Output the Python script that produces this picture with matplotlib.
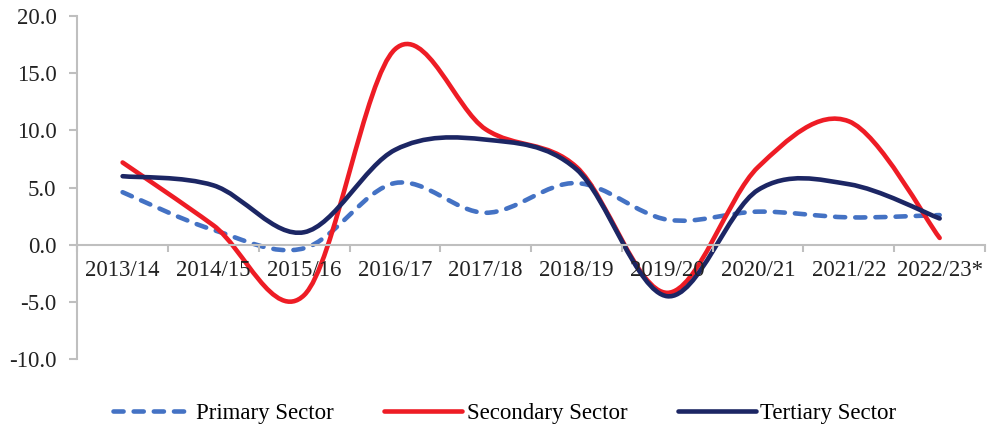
import matplotlib.pyplot as plt
import numpy as np
from matplotlib.path import Path
from matplotlib.patches import PathPatch
from matplotlib.lines import Line2D

years = ['2013/14', '2014/15', '2015/16', '2016/17', '2017/18',
         '2018/19', '2019/20', '2020/21', '2021/22', '2022/23*']
primary = [4.6, 1.3, -0.3, 5.4, 2.8, 5.4, 2.2, 2.9, 2.4, 2.6]
secondary = [7.2, 1.7, -4.4, 17.1, 10.1, 6.8, -4.2, 6.8, 10.8, 0.6]
tertiary = [6.0, 5.2, 1.1, 8.3, 9.2, 6.6, -4.5, 4.8, 5.3, 2.3]

plt.rcParams['font.family'] = ['Liberation Serif', 'DejaVu Serif']
FS = 16.5


def smooth_path(xs, ys):
    # Excel-style smoothed line: cubic Bezier through each point
    pts = np.column_stack([xs, ys]).astype(float)
    ext = np.vstack([pts[0], pts, pts[-1]])
    verts = [pts[0]]
    codes = [Path.MOVETO]
    for i in range(len(pts) - 1):
        p0, p1, p2, p3 = ext[i], ext[i + 1], ext[i + 2], ext[i + 3]
        verts += [p1 + (p2 - p0) / 6, p2 - (p3 - p1) / 6, p2]
        codes += [Path.CURVE4] * 3
    return Path(verts, codes)


fig = plt.figure(figsize=(9.9, 4.25), dpi=100)
ax = fig.add_axes([0.078, 0.155, 0.917, 0.807])

x = np.arange(len(years))
styles = [
    (primary, 'Primary Sector', '#4472C4', (0, (2.2, 2.2))),
    (secondary, 'Secondary Sector', '#EE1C25', '-'),
    (tertiary, 'Tertiary Sector', '#1C2664', '-'),
]
handles = []
for vals, name, col, ls in styles:
    patch = PathPatch(smooth_path(x, vals), facecolor='none', edgecolor=col,
                      lw=3.3, linestyle=ls, capstyle='round', joinstyle='round')
    ax.add_patch(patch)
    handles.append(Line2D([], [], color=col, lw=3.3, linestyle=ls,
                          dash_capstyle='round', solid_capstyle='round', label=name))

ax.set_xlim(-0.5, len(years) - 0.5)
ax.set_ylim(-10, 20)
yt = np.arange(-10, 21, 5)
ax.set_yticks(yt)
ax.set_yticklabels([f'{v:.1f}' for v in yt])

ax.set_xticks(np.arange(-0.5, len(years), 1.0))
ax.set_xticklabels([])
ax.set_xticks(x, minor=True)
ax.set_xticklabels(years, minor=True)
ax.tick_params(axis='x', which='minor', length=0, pad=11, labelsize=FS,
               labelcolor='#222222')
ax.tick_params(axis='x', which='major', length=5, color='#BFBFBF', width=1.5)
ax.tick_params(axis='y', length=6, color='#BFBFBF', width=1.5, pad=9,
               labelsize=FS, labelcolor='#222222')

ax.spines['bottom'].set_position(('data', 0))
for s in ['bottom', 'left']:
    ax.spines[s].set_color('#BFBFBF')
    ax.spines[s].set_linewidth(1.5)
ax.spines['top'].set_visible(False)
ax.spines['right'].set_visible(False)

fig.legend(handles=handles, loc='center', bbox_to_anchor=(0.51, 0.028),
           ncol=3, frameon=False, fontsize=FS, handlelength=3.4,
           handletextpad=0.2, columnspacing=2.2)

fig.savefig('out.png', dpi=100)
